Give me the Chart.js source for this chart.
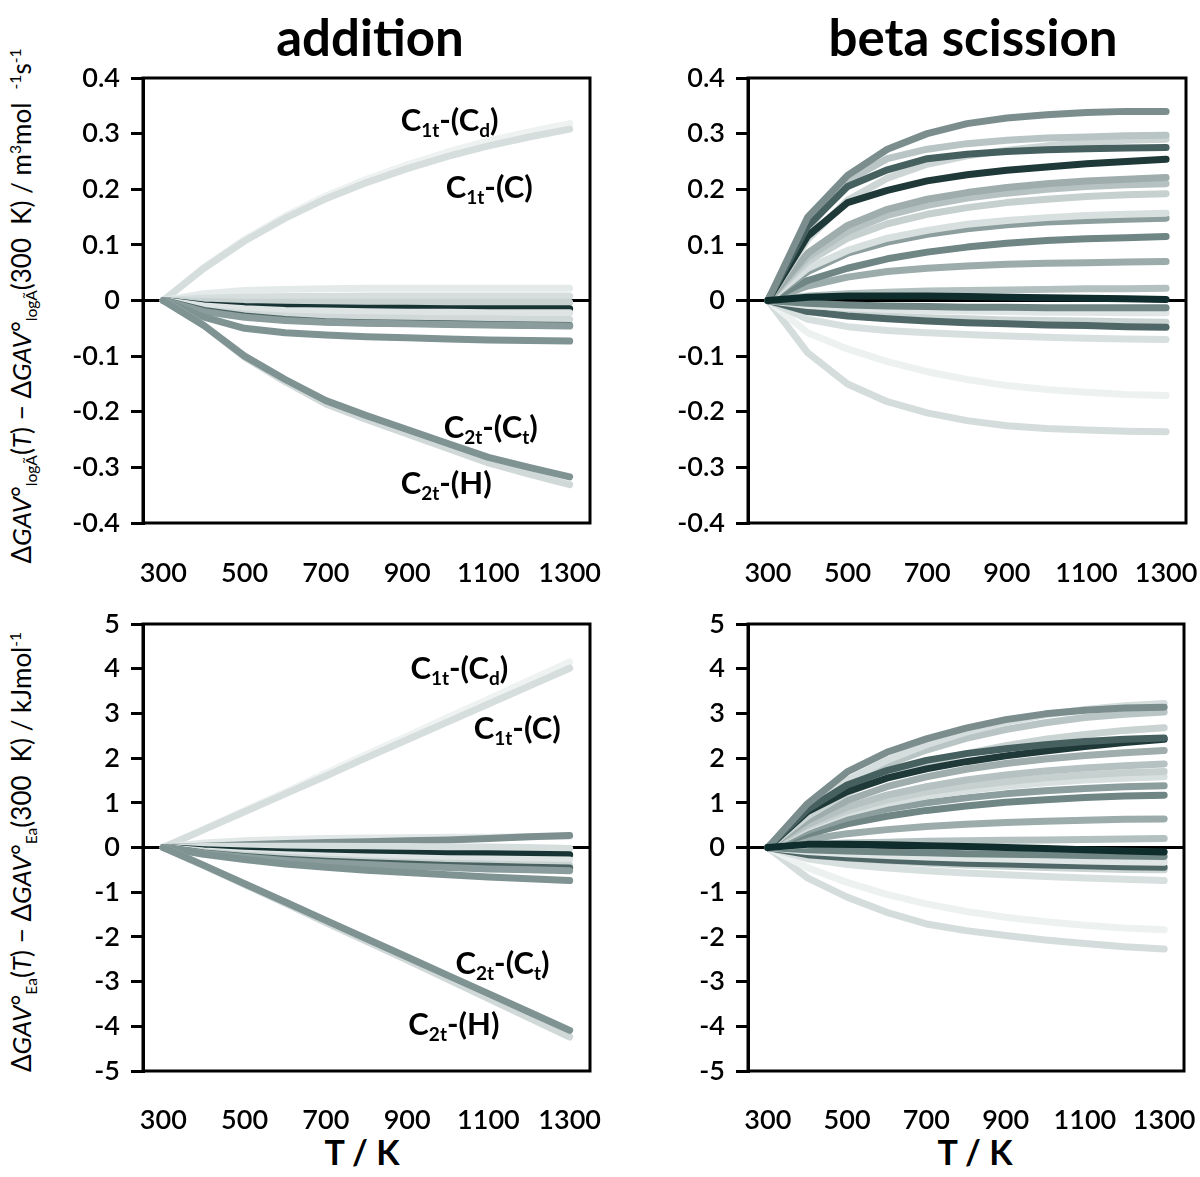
<!DOCTYPE html>
<html>
<head>
<meta charset="utf-8">
<script src="https://cdn.jsdelivr.net/npm/chart.js@4.4.1/dist/chart.umd.min.js"></script>
<style>
body { margin: 0; background: #fff; font-family: Lato, sans-serif; }
#page { position: relative; width: 1200px; height: 1177px; overflow: hidden; background: #fff; }
#page canvas { position: absolute; }
.title { position: absolute; font-weight: bold; font-size: 51px; transform: translate(-50%, -50%); white-space: nowrap; }
.xtitle { position: absolute; font-weight: bold; font-size: 34px; transform: translate(-50%, -50%); white-space: nowrap; }
.ytitle { position: absolute; font-size: 26px; transform: translate(-50%, -50%) rotate(-90deg); white-space: nowrap; line-height: 1; }
.ytitle sub, .ytitle sup { font-size: 60%; }
</style>
</head>
<body>
<div id="page">
  <div class="title" style="left:370px;top:36px">addition</div>
  <div class="title" style="left:973px;top:36px">beta scission</div>
  <div class="ytitle" style="left:24px;top:306px">&Delta;<i>GAV</i>&deg;<sub>log&Atilde;</sub>(<i>T</i>) &minus; &Delta;<i>GAV</i>&deg;<sub>log&Atilde;</sub>(300&nbsp;&nbsp;K) / m<sup>3</sup>mol&nbsp;&nbsp;<sup>-1</sup>s<sup>-1</sup></div>
  <div class="ytitle" style="left:24px;top:852px">&Delta;<i>GAV</i>&deg;<sub>Ea</sub>(<i>T</i>) &minus; &Delta;<i>GAV</i>&deg;<sub>Ea</sub>(300&nbsp;&nbsp;K) / kJmol<sup>-1</sup></div>
  <div class="xtitle" style="left:362px;top:1151px">T / K</div>
  <div class="xtitle" style="left:975px;top:1151px">T / K</div>
  <canvas id="addLogA" width="610" height="540" style="left:0;top:60px"></canvas>
  <canvas id="betaLogA" width="590" height="540" style="left:610px;top:60px"></canvas>
  <canvas id="addEa" width="610" height="540" style="left:0;top:610px"></canvas>
  <canvas id="betaEa" width="590" height="540" style="left:610px;top:610px"></canvas>
</div>
<script>
// temperatures (K) at which every curve is sampled
var temps = [300, 400, 500, 600, 700, 800, 900, 1000, 1100, 1200, 1300];
var tempTicks = [300, 500, 700, 900, 1100, 1300];

// addition, log A differences
var addLogASeries = [
  [0, 0.060, 0.110, 0.152, 0.188, 0.218, 0.244, 0.267, 0.287, 0.303, 0.318],
  [0, 0.058, 0.107, 0.148, 0.183, 0.212, 0.237, 0.259, 0.278, 0.294, 0.308],
  [0, 0.012, 0.018, 0.020, 0.021, 0.022, 0.022, 0.022, 0.022, 0.022, 0.022],
  [0, 0.004, 0.006, 0.007, 0.007, 0.008, 0.008, 0.008, 0.008, 0.008, 0.008],
  [0, -0.002, -0.003, -0.003, -0.003, -0.003, -0.003, -0.003, -0.003, -0.003, -0.003],
  [0, -0.008, -0.011, -0.012, -0.013, -0.014, -0.014, -0.015, -0.015, -0.015, -0.015],
  [0, -0.010, -0.015, -0.018, -0.019, -0.020, -0.021, -0.021, -0.022, -0.022, -0.022],
  [0, -0.017, -0.024, -0.028, -0.030, -0.031, -0.032, -0.033, -0.033, -0.034, -0.034],
  [0, -0.018, -0.028, -0.034, -0.038, -0.040, -0.041, -0.042, -0.043, -0.044, -0.045],
  [0, -0.020, -0.030, -0.036, -0.039, -0.041, -0.042, -0.043, -0.044, -0.045, -0.046],
  [0, -0.030, -0.050, -0.058, -0.062, -0.065, -0.067, -0.069, -0.071, -0.072, -0.073],
  [0, -0.045, -0.102, -0.146, -0.186, -0.214, -0.240, -0.266, -0.292, -0.312, -0.331],
  [0, -0.045, -0.100, -0.142, -0.180, -0.207, -0.232, -0.257, -0.282, -0.300, -0.317]
];
var addLogAColors = ['#eef2f1', '#d6dedd', '#e4eaea', '#d6dedd', '#c8d2d1', '#173333', '#dde4e3',
  '#d0d9d8', '#4a6362', '#8a9d9c', '#7f9392', '#d0d9d8', '#7f9392'];

// beta scission, log A differences
var betaLogASeries = [
  [0, -0.094, -0.150, -0.182, -0.202, -0.216, -0.225, -0.230, -0.233, -0.235, -0.236],
  [0, -0.058, -0.087, -0.110, -0.128, -0.142, -0.153, -0.160, -0.165, -0.169, -0.171],
  [0, -0.034, -0.047, -0.054, -0.058, -0.061, -0.064, -0.066, -0.068, -0.069, -0.070],
  [0, -0.017, -0.024, -0.028, -0.031, -0.033, -0.035, -0.036, -0.037, -0.038, -0.039],
  [0, -0.020, -0.028, -0.033, -0.037, -0.040, -0.042, -0.044, -0.045, -0.047, -0.048],
  [0, -0.009, -0.013, -0.016, -0.018, -0.019, -0.020, -0.021, -0.021, -0.022, -0.022],
  [0, -0.005, -0.008, -0.010, -0.011, -0.012, -0.012, -0.013, -0.013, -0.013, -0.013],
  [0, 0.008, 0.012, 0.015, 0.017, 0.018, 0.019, 0.020, 0.021, 0.021, 0.022],
  [0, 0.026, 0.042, 0.052, 0.058, 0.062, 0.065, 0.067, 0.068, 0.069, 0.070],
  [0, 0.036, 0.058, 0.075, 0.087, 0.096, 0.103, 0.108, 0.111, 0.113, 0.115],
  [0, 0.052, 0.085, 0.105, 0.119, 0.129, 0.136, 0.141, 0.144, 0.146, 0.148],
  [0, 0.058, 0.090, 0.112, 0.126, 0.137, 0.144, 0.149, 0.153, 0.155, 0.157],
  [0, 0.070, 0.112, 0.138, 0.155, 0.167, 0.176, 0.182, 0.187, 0.190, 0.192],
  [0, 0.078, 0.124, 0.153, 0.171, 0.184, 0.193, 0.200, 0.205, 0.208, 0.210],
  [0, 0.085, 0.135, 0.164, 0.182, 0.194, 0.203, 0.210, 0.215, 0.218, 0.221],
  [0, 0.110, 0.180, 0.220, 0.245, 0.260, 0.270, 0.278, 0.284, 0.288, 0.290],
  [0, 0.128, 0.215, 0.255, 0.272, 0.282, 0.288, 0.292, 0.294, 0.296, 0.297],
  [0, 0.116, 0.176, 0.198, 0.215, 0.226, 0.234, 0.240, 0.246, 0.250, 0.254],
  [0, 0.134, 0.205, 0.235, 0.255, 0.263, 0.268, 0.271, 0.273, 0.274, 0.275],
  [0, 0.150, 0.225, 0.272, 0.300, 0.318, 0.328, 0.334, 0.338, 0.340, 0.340],
  [0, 0.006, 0.008, 0.008, 0.008, 0.007, 0.006, 0.005, 0.004, 0.003, 0.002]
];
var betaLogAColors = ['#d4dddc', '#edf2f1', '#d8e0df', '#cad4d3', '#4f6867', '#dfe6e5', '#6f8685',
  '#b2c0bf', '#9cacab', '#6f8685', '#8c9e9d', '#d8e0df', '#c6d0cf', '#b5c2c1', '#9fadac',
  '#cdd6d5', '#b9c5c4', '#1f3838', '#45605f', '#7b8e8d', '#0f2d2d'];

// addition, Ea differences (kJ/mol)
var addEaSeries = [
  [0, 0.41, 0.83, 1.24, 1.66, 2.08, 2.49, 2.91, 3.32, 3.74, 4.15],
  [0, 0.40, 0.80, 1.20, 1.60, 2.01, 2.41, 2.81, 3.21, 3.61, 4.01],
  [0, 0.10, 0.15, 0.18, 0.20, 0.21, 0.22, 0.23, 0.23, 0.24, 0.25],
  [0, 0.03, 0.06, 0.09, 0.11, 0.13, 0.15, 0.17, 0.20, 0.24, 0.27],
  [0, 0.02, 0.03, 0.03, 0.03, 0.02, 0.02, 0.01, 0.01, 0.00, -0.02],
  [0, -0.05, -0.08, -0.10, -0.11, -0.12, -0.13, -0.14, -0.14, -0.15, -0.16],
  [0, -0.08, -0.13, -0.16, -0.19, -0.21, -0.23, -0.25, -0.26, -0.27, -0.28],
  [0, -0.10, -0.17, -0.22, -0.26, -0.30, -0.33, -0.35, -0.37, -0.39, -0.40],
  [0, -0.12, -0.20, -0.26, -0.31, -0.34, -0.37, -0.40, -0.42, -0.44, -0.46],
  [0, -0.13, -0.22, -0.29, -0.34, -0.38, -0.42, -0.45, -0.48, -0.50, -0.52],
  [0, -0.15, -0.27, -0.37, -0.44, -0.51, -0.56, -0.61, -0.66, -0.70, -0.74],
  [0, -0.41, -0.83, -1.25, -1.68, -2.10, -2.52, -2.95, -3.38, -3.81, -4.24],
  [0, -0.40, -0.81, -1.22, -1.63, -2.04, -2.45, -2.86, -3.27, -3.68, -4.09]
];
var addEaColors = ['#eef2f1', '#d6dedd', '#e2e8e7', '#7d908f', '#d6dedd', '#173333', '#dde4e3',
  '#c8d2d1', '#4a6362', '#8a9d9c', '#7f9392', '#d0d9d8', '#7f9392'];

// beta scission, Ea differences (kJ/mol)
var betaEaSeries = [
  [0, -0.68, -1.11, -1.45, -1.71, -1.86, -1.97, -2.07, -2.15, -2.22, -2.27],
  [0, -0.45, -0.78, -1.05, -1.26, -1.43, -1.56, -1.66, -1.74, -1.80, -1.84],
  [0, -0.25, -0.38, -0.46, -0.52, -0.57, -0.61, -0.65, -0.68, -0.71, -0.74],
  [0, -0.16, -0.24, -0.30, -0.35, -0.39, -0.42, -0.45, -0.47, -0.49, -0.50],
  [0, -0.16, -0.23, -0.28, -0.32, -0.35, -0.37, -0.39, -0.41, -0.43, -0.44],
  [0, -0.09, -0.14, -0.18, -0.21, -0.24, -0.26, -0.28, -0.30, -0.32, -0.33],
  [0, -0.05, -0.08, -0.10, -0.12, -0.14, -0.15, -0.16, -0.18, -0.19, -0.20],
  [0, 0.06, 0.10, 0.12, 0.14, 0.15, 0.16, 0.17, 0.18, 0.19, 0.20],
  [0, 0.18, 0.31, 0.40, 0.47, 0.52, 0.56, 0.59, 0.61, 0.63, 0.64],
  [0, 0.30, 0.53, 0.70, 0.83, 0.93, 1.01, 1.07, 1.12, 1.15, 1.17],
  [0, 0.38, 0.66, 0.86, 1.00, 1.11, 1.20, 1.27, 1.32, 1.36, 1.38],
  [0, 0.45, 0.77, 0.99, 1.15, 1.27, 1.37, 1.45, 1.51, 1.55, 1.58],
  [0, 0.48, 0.82, 1.06, 1.24, 1.37, 1.47, 1.56, 1.62, 1.67, 1.70],
  [0, 0.52, 0.90, 1.17, 1.36, 1.51, 1.62, 1.71, 1.78, 1.83, 1.87],
  [0, 0.60, 1.05, 1.36, 1.58, 1.75, 1.88, 1.98, 2.06, 2.12, 2.17],
  [0, 0.70, 1.22, 1.60, 1.88, 2.10, 2.28, 2.42, 2.53, 2.62, 2.68],
  [0, 0.80, 1.40, 1.85, 2.18, 2.44, 2.64, 2.79, 2.91, 2.98, 3.03],
  [0, 0.85, 1.50, 1.95, 2.30, 2.58, 2.80, 2.97, 3.09, 3.17, 3.22],
  [0, 0.80, 1.25, 1.55, 1.76, 1.92, 2.05, 2.16, 2.26, 2.35, 2.42],
  [0, 0.85, 1.40, 1.72, 1.95, 2.10, 2.21, 2.30, 2.37, 2.42, 2.45],
  [0, 0.98, 1.69, 2.13, 2.43, 2.67, 2.86, 2.99, 3.07, 3.12, 3.14],
  [0, 0.07, 0.07, 0.06, 0.04, 0.02, 0.00, -0.02, -0.05, -0.08, -0.10]
];
var betaEaColors = ['#d4dddc', '#edf2f1', '#d8e0df', '#cad4d3', '#4f6867', '#dfe6e5', '#6f8685',
  '#b2c0bf', '#9cacab', '#6f8685', '#8c9e9d', '#d8e0df', '#c6d0cf', '#b5c2c1', '#9fadac',
  '#c9d3d2', '#b9c5c4', '#d5dedd', '#1f3838', '#45605f', '#7b8e8d', '#0f2d2d'];

// group labels written inside the addition panels (T, value)
var C1tCd = [{t: 'C'}, {t: '1t', sub: true}, {t: '-(C'}, {t: 'd', sub: true}, {t: ')'}];
var C1tC = [{t: 'C'}, {t: '1t', sub: true}, {t: '-(C)'}];
var C2tCt = [{t: 'C'}, {t: '2t', sub: true}, {t: '-(C'}, {t: 't', sub: true}, {t: ')'}];
var C2tH = [{t: 'C'}, {t: '2t', sub: true}, {t: '-(H)'}];
var addLogATags = [
  {x: 884, y: 0.305, runs: C1tCd},
  {x: 995, y: 0.184, runs: C1tC},
  {x: 990, y: -0.248, runs: C2tCt},
  {x: 884, y: -0.347, runs: C2tH}
];
var addEaTags = [
  {x: 908, y: 3.78, runs: C1tCd},
  {x: 1064, y: 2.42, runs: C1tC},
  {x: 1019, y: -2.84, runs: C2tCt},
  {x: 903, y: -4.19, runs: C2tH}
];

// black box round the plot area
var framePlugin = {
    id: 'frame',
    afterDraw: function (chart) {
        var a = chart.chartArea, ctx = chart.ctx;
        ctx.save();
        ctx.strokeStyle = '#000';
        ctx.lineWidth = 3;
        ctx.strokeRect(a.left, a.top, a.right - a.left, a.bottom - a.top);
        ctx.restore();
    }
};

// bold labels with subscripts, placed in data coordinates
var tagPlugin = {
    id: 'tags',
    afterDatasetsDraw: function (chart, args, opts) {
        var ctx = chart.ctx, xs = chart.scales.x, ys = chart.scales.y;
        (opts.items || []).forEach(function (item) {
            var x = xs.getPixelForValue(item.x), y = ys.getPixelForValue(item.y);
            ctx.save();
            ctx.fillStyle = '#000';
            ctx.textBaseline = 'alphabetic';
            item.runs.forEach(function (r) {
                ctx.font = 'bold ' + (r.sub ? 19 : 31) + 'px Lato';
                ctx.fillText(r.t, x, y + (r.sub ? 6 : 0));
                x += ctx.measureText(r.t).width;
            });
            ctx.restore();
        });
    }
};

var tickFont = {family: 'Lato', size: 27, weight: '600'};

var makePanel = function (id, series, colors, yMin, yMax, yStep, tags, box) {
    var datasets = series.map(function (vals, i) {
        return {
            data: temps.map(function (t, j) { return {x: t, y: vals[j]}; }),
            borderColor: colors[i],
            borderWidth: 7,
            borderCapStyle: 'round',
            borderJoinStyle: 'round',
            pointRadius: 0,
            tension: 0,
            fill: false,
            order: -i
        };
    });
    return new Chart(document.getElementById(id), {
        type: 'line',
        data: {datasets: datasets},
        options: {
            responsive: false,
            animation: false,
            events: [],
            layout: {padding: {top: box.top, right: box.right, left: 0, bottom: 0}},
            plugins: {
                legend: {display: false},
                tooltip: {enabled: false},
                tags: {items: tags}
            },
            scales: {
                x: {
                    type: 'linear',
                    min: 250,
                    max: 1350,
                    afterBuildTicks: function (s) {
                        s.ticks = tempTicks.map(function (v) { return {value: v}; });
                    },
                    afterFit: function (s) {
                        s.height = box.xHeight;
                        s.paddingLeft = 0;
                        s.paddingRight = 0;
                    },
                    grid: {display: false, drawTicks: false},
                    border: {display: false},
                    ticks: {
                        padding: box.xPad,
                        autoSkip: false,
                        maxRotation: 0,
                        color: '#000',
                        font: tickFont,
                        callback: function (v) { return String(v); }
                    }
                },
                y: {
                    min: yMin,
                    max: yMax,
                    afterFit: function (s) {
                        s.width = box.yWidth;
                        s.paddingTop = 0;
                        s.paddingBottom = 0;
                    },
                    grid: {
                        color: function (c) {
                            return c.tick && Math.abs(c.tick.value) < 1e-9 ? '#000' : 'rgba(0,0,0,0)';
                        },
                        lineWidth: 3,
                        tickColor: '#000',
                        tickWidth: 3,
                        tickLength: 12
                    },
                    border: {display: true, color: '#000', width: 3},
                    ticks: {
                        stepSize: yStep,
                        padding: 11,
                        color: '#000',
                        font: tickFont,
                        callback: function (v) {
                            return Math.abs(v) < 1e-9 ? '0' : String(+v.toFixed(1));
                        }
                    }
                }
            }
        },
        plugins: [framePlugin, tagPlugin]
    });
};

makePanel('addLogA', addLogASeries, addLogAColors, -0.4, 0.4, 0.1, addLogATags,
    {top: 18, right: 20, yWidth: 143, xHeight: 77, xPad: 34});
makePanel('betaLogA', betaLogASeries, betaLogAColors, -0.4, 0.4, 0.1, [],
    {top: 18, right: 14, yWidth: 138, xHeight: 77, xPad: 34});
makePanel('addEa', addEaSeries, addEaColors, -5, 5, 1, addEaTags,
    {top: 14, right: 20, yWidth: 143, xHeight: 79, xPad: 33});
makePanel('betaEa', betaEaSeries, betaEaColors, -5, 5, 1, [],
    {top: 14, right: 16, yWidth: 138, xHeight: 79, xPad: 33});
</script>
</body>
</html>
